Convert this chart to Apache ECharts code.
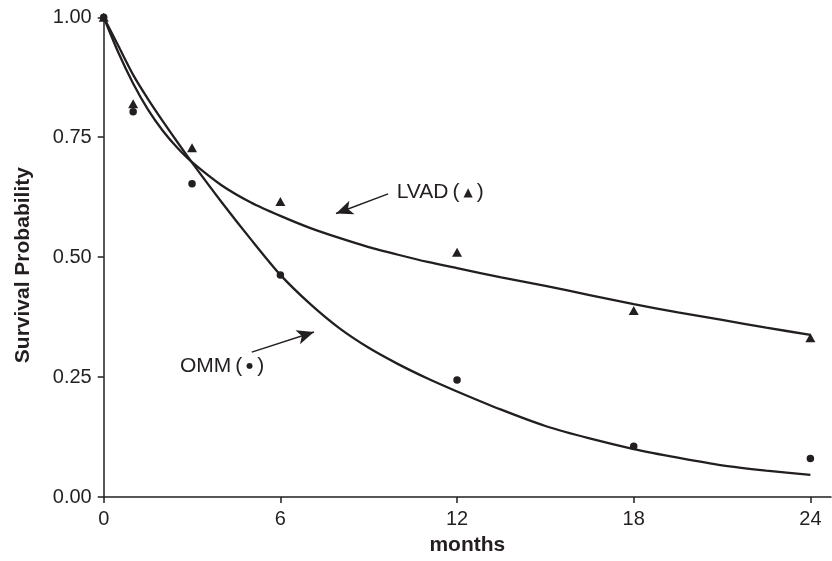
<!DOCTYPE html>
<html>
<head>
<meta charset="utf-8">
<script src="https://cdn.jsdelivr.net/npm/echarts@6/dist/echarts.min.js"></script>
<style>
html,body{margin:0;padding:0;background:#fff;}
#chart{width:832px;height:561px;}
</style>
</head>
<body>
<div id="chart"></div>
<script>
// Observed data points (months, survival probability)
const lvadMonths = [0, 1, 3, 6, 12, 18, 24];
const lvadValues = [1.00, 0.820, 0.728, 0.616, 0.510, 0.389, 0.332];
const ommMonths = [0, 1, 3, 6, 12, 18, 24];
const ommValues = [1.00, 0.803, 0.653, 0.463, 0.244, 0.106, 0.080];

// Fitted curves
const lvadCurveMonths = [0, 0.5, 1, 1.5, 2, 2.5, 3, 4, 5, 6, 7, 8, 9, 10, 11, 12, 13.5, 15, 16.5, 18, 19.5, 21, 22.5, 24];
const lvadCurveValues = [1.00, 0.926, 0.862, 0.808, 0.764, 0.728, 0.698, 0.650, 0.614, 0.586, 0.561, 0.540, 0.521, 0.505, 0.490, 0.477, 0.458, 0.440, 0.421, 0.402, 0.385, 0.369, 0.353, 0.338];
const ommCurveMonths = [0, 0.5, 1, 1.5, 2, 2.5, 3, 4, 5, 6, 7, 8, 9, 10, 11, 12, 13.5, 15, 16.5, 18, 19.5, 21, 22.5, 24];
const ommCurveValues = [1.00, 0.940, 0.880, 0.830, 0.784, 0.740, 0.697, 0.615, 0.537, 0.463, 0.403, 0.352, 0.311, 0.277, 0.247, 0.220, 0.182, 0.148, 0.122, 0.100, 0.082, 0.066, 0.055, 0.046];

const xTicks = [0, 6, 12, 18, 24];

// Annotations in data coordinates
const lvadLabel = {text: 'LVAD', month: 9.95, value: 0.635};
const lvadArrow = {from: [9.66, 0.632], to: [7.89, 0.591]};
const ommLabel = {text: 'OMM', month: 2.59, value: 0.273};
const ommArrow = {from: [5.03, 0.302], to: [7.14, 0.344]};

const INK = '#231f20';
const zip = (a, b) => a.map((v, i) => [v, b[i]]);

const chart = echarts.init(document.getElementById('chart'), null, {renderer: 'canvas'});

const arrowLine = (arr) => ({
  type: 'line',
  data: [],
  silent: true,
  markLine: {
    silent: true,
    symbol: ['none', 'arrow'],
    symbolSize: [11, 17],
    lineStyle: {color: INK, width: 1.5, type: 'solid'},
    label: {show: false},
    data: [[{coord: arr.from}, {coord: arr.to}]]
  }
});

chart.setOption({
  animation: false,
  backgroundColor: '#fff',
  grid: {left: 103.7, right: 1, top: 17.3, bottom: 61.7},
  xAxis: {
    type: 'value', min: 0, max: 24.7,
    name: 'months', nameLocation: 'middle', nameGap: 38,
    nameTextStyle: {fontFamily: 'Liberation Sans', fontWeight: 'bold', fontSize: 21, color: INK},
    axisLine: {show: true, lineStyle: {color: INK, width: 1.5}},
    axisTick: {show: true, length: 6, customValues: xTicks, lineStyle: {color: INK, width: 1.5}},
    axisLabel: {customValues: xTicks, margin: 12, fontFamily: 'Liberation Sans', fontSize: 20, color: INK},
    splitLine: {show: false}
  },
  yAxis: {
    type: 'value', min: 0, max: 1, interval: 0.25,
    name: 'Survival Probability', nameLocation: 'middle', nameGap: 70,
    nameTextStyle: {fontFamily: 'Liberation Sans', fontWeight: 'bold', fontSize: 21, color: INK, padding: [0, 16, 0, 0]},
    axisLine: {show: true, lineStyle: {color: INK, width: 1.5}},
    axisTick: {show: true, length: 6, lineStyle: {color: INK, width: 1.5}},
    axisLabel: {margin: 12, fontFamily: 'Liberation Sans', fontSize: 20, color: INK,
      formatter: v => v.toFixed(2)},
    splitLine: {show: false}
  },
  series: [
    {type: 'line', name: 'LVAD fit', data: zip(lvadCurveMonths, lvadCurveValues), smooth: 0.25,
      showSymbol: false, lineStyle: {color: INK, width: 2.3}, z: 2},
    {type: 'line', name: 'OMM fit', data: zip(ommCurveMonths, ommCurveValues), smooth: 0.25,
      showSymbol: false, lineStyle: {color: INK, width: 2.3}, z: 2},
    {type: 'scatter', name: 'LVAD', data: zip(lvadMonths, lvadValues), symbol: 'triangle',
      symbolSize: [10, 9], itemStyle: {color: INK, opacity: 1}, z: 3},
    {type: 'scatter', name: 'OMM', data: zip(ommMonths, ommValues), symbol: 'circle',
      symbolSize: 7.5, itemStyle: {color: INK, opacity: 1}, z: 3},
    arrowLine(lvadArrow),
    arrowLine(ommArrow)
  ]
});

function placeLabel(lbl, markerChar, markerSize) {
  const p = chart.convertToPixel({gridIndex: 0}, [lbl.month, lbl.value]);
  return {
    type: 'text', x: p[0], y: p[1],
    style: {
      text: '{t|' + lbl.text + '}{p|(}{m|' + markerChar + '}{p|)}',
      rich: {
        t: {fontFamily: 'Liberation Sans', fontSize: 21, fill: INK, padding: [0, 4, 0, 0]},
        p: {fontFamily: 'Liberation Sans', fontSize: 21, fill: INK},
        m: {fontFamily: 'DejaVu Sans', fontSize: markerSize, fill: INK, padding: [0, 4, 0, 4]}
      },
      verticalAlign: 'middle', align: 'left'
    }
  };
}

chart.setOption({
  graphic: [
    placeLabel(lvadLabel, '▲', 12),
    placeLabel(ommLabel, '●', 8)
  ]
});
</script>
</body>
</html>
